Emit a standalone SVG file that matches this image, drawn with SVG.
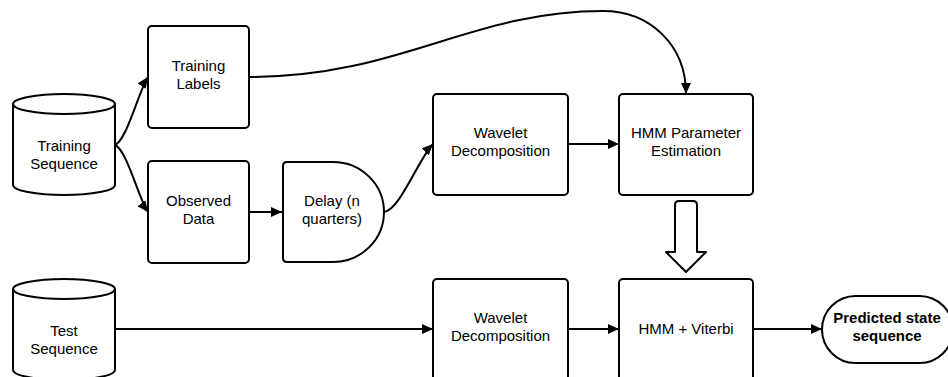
<svg xmlns="http://www.w3.org/2000/svg" width="948" height="377" viewBox="0 0 948 377">
  <style>
    .shape { fill: #ffffff; stroke: #000000; stroke-width: 2; stroke-linejoin: round; }
    .edge { fill: none; stroke: #000000; stroke-width: 2; }
    .label { font-family: "Liberation Sans", Arial, Helvetica, sans-serif; font-size: 15px; fill: #000000; text-anchor: middle; }
    .bold { font-weight: bold; }
  </style>
  <defs>
    <marker id="arrow" viewBox="0 0 10 10" refX="10" refY="5" markerWidth="11" markerHeight="11" markerUnits="userSpaceOnUse" orient="auto">
      <path d="M0,0.5 L10,5 L0,9.5 Z" fill="#000000"/>
    </marker>
  </defs>
  <rect width="948" height="377" fill="#ffffff"/>

  <!-- connectors -->
  <g id="connectors">
    <path class="edge" d="M115,145 C127,140 139,90 148,77" marker-end="url(#arrow)"/>
    <path class="edge" d="M115,145 C127,150 139,200 148,212" marker-end="url(#arrow)"/>
    <path class="edge" d="M249,77 C400,77 470,11 603,11 C650,11 686,45 686,94" marker-end="url(#arrow)"/>
    <path class="edge" d="M249,212 H282" marker-end="url(#arrow)"/>
    <path class="edge" d="M384,212 C400,210 419,158 433,144" marker-end="url(#arrow)"/>
    <path class="edge" d="M568,144 H619" marker-end="url(#arrow)"/>
    <path class="edge" d="M115,329 H433" marker-end="url(#arrow)"/>
    <path class="edge" d="M568,329 H619" marker-end="url(#arrow)"/>
    <path class="edge" d="M753,329 H822" marker-end="url(#arrow)"/>
    <!-- hollow block arrow from estimation to decoding -->
    <path class="shape" d="M679,201 H693 Q697,201 697,205 V252 H706 L686,272 L666,252 H675 V205 Q675,201 679,201 Z"/>
  </g>

  <g id="training-sequence">
    <path class="shape" d="M13,104 A51,10 0 0 1 115,104 V185 A51,10 0 0 1 13,185 Z"/>
    <path class="edge" d="M13,104 A51,10 0 0 0 115,104"/>
    <text class="label" x="64" y="151">Training</text>
    <text class="label" x="64" y="169">Sequence</text>
  </g>

  <g id="training-labels">
    <rect class="shape" x="148" y="26" width="101" height="102" rx="4"/>
    <text class="label" x="198.5" y="71">Training</text>
    <text class="label" x="198.5" y="89">Labels</text>
  </g>

  <g id="observed-data">
    <rect class="shape" x="148" y="161" width="101" height="102" rx="4"/>
    <text class="label" x="198.5" y="206">Observed</text>
    <text class="label" x="198.5" y="224">Data</text>
  </g>

  <g id="delay">
    <path class="shape" d="M287,162 H333 A51,50 0 0 1 333,262 H287 Q283,262 283,258 V166 Q283,162 287,162 Z"/>
    <text class="label" x="332" y="206">Delay (n</text>
    <text class="label" x="332" y="224">quarters)</text>
  </g>

  <g id="wavelet-train">
    <rect class="shape" x="433" y="94" width="135" height="101" rx="4"/>
    <text class="label" x="500.5" y="138">Wavelet</text>
    <text class="label" x="500.5" y="156">Decomposition</text>
  </g>

  <g id="hmm-estimation">
    <rect class="shape" x="619" y="94" width="134" height="101" rx="4"/>
    <text class="label" x="686" y="138">HMM Parameter</text>
    <text class="label" x="686" y="156">Estimation</text>
  </g>

  <g id="test-sequence">
    <path class="shape" d="M13,289 A51,10 0 0 1 115,289 V370 A51,10 0 0 1 13,370 Z"/>
    <path class="edge" d="M13,289 A51,10 0 0 0 115,289"/>
    <text class="label" x="64" y="336">Test</text>
    <text class="label" x="64" y="354">Sequence</text>
  </g>

  <g id="wavelet-test">
    <rect class="shape" x="433" y="279" width="135" height="102" rx="4"/>
    <text class="label" x="500.5" y="323">Wavelet</text>
    <text class="label" x="500.5" y="341">Decomposition</text>
  </g>

  <g id="hmm-viterbi">
    <rect class="shape" x="619" y="279" width="134" height="102" rx="4"/>
    <text class="label" x="686" y="334">HMM + Viterbi</text>
  </g>

  <g id="predicted-state">
    <rect class="shape" x="822" y="296" width="131" height="67" rx="33.5"/>
    <text class="label bold" x="887" y="323">Predicted state</text>
    <text class="label bold" x="887" y="341">sequence</text>
  </g>
</svg>
